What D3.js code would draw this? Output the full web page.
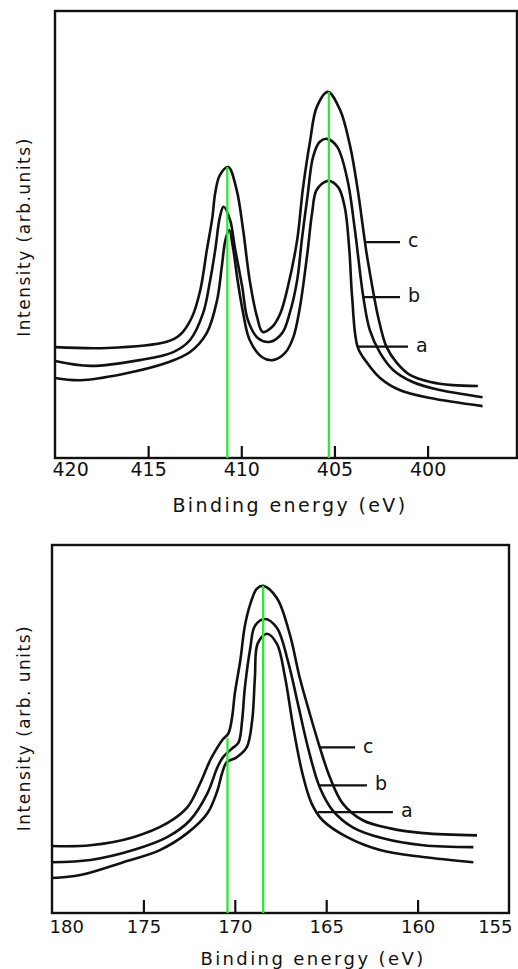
<!DOCTYPE html>
<html>
<head>
<meta charset="utf-8">
<script src="https://cdn.jsdelivr.net/npm/d3@7"></script>
<style>
  html, body { margin: 0; padding: 0; background: #fff; }
  svg { display: block; }
  .frame { fill: none; stroke: #111; stroke-width: 2.4; }
  .curve { fill: none; stroke: #111; stroke-width: 2.6; stroke-linejoin: round; }
  .marker { stroke: #22ee22; stroke-width: 2.2; }
  .lead { stroke: #111; stroke-width: 2.2; }
  .tick line { stroke: #111; stroke-width: 2.2; }
  text { font-family: "DejaVu Sans", sans-serif; fill: #111; }
</style>
</head>
<body>
<svg id="chart" width="518" height="969"></svg>
<script>
// tick values (binding energy, eV)
const topTicks = [420, 415, 410, 405, 400];
const bottomTicks = [180, 175, 170, 165, 160, 155];

// spectra: [binding energy (eV), intensity (arb. units)]
const topCurveA = [[420.0,17.9],[418.65,17.4],[416.35,18.8],[414.0,21.3],[412.75,23.7],[411.85,28.0],[411.3,35.3],[411.05,42.7],[410.85,48.8],[410.65,51.0],[410.45,47.2],[410.2,39.8],[409.9,32.4],[409.55,26.4],[408.9,22.6],[408.3,21.9],[407.65,23.5],[407.2,27.1],[406.85,33.8],[406.45,45.9],[406.2,54.8],[405.95,60.0],[405.35,62.0],[404.8,60.6],[404.45,56.2],[404.2,46.5],[404.05,36.0],[403.75,24.8],[403.25,21.3],[402.55,17.9],[401.5,15.2],[399.85,13.4],[397.05,11.6]];
const topCurveB = [[420.0,21.7],[418.1,20.6],[415.45,21.9],[413.65,23.7],[412.75,26.4],[412.05,32.4],[411.7,39.1],[411.4,46.5],[411.15,53.9],[410.95,56.2],[410.6,53.2],[410.35,47.2],[409.95,38.3],[409.65,30.9],[409.1,26.8],[408.45,26.0],[407.8,28.0],[407.4,32.4],[407.0,39.8],[406.75,48.8],[406.45,58.4],[406.15,67.3],[405.8,70.7],[405.4,71.4],[404.85,69.6],[404.3,62.2],[403.9,51.0],[403.45,36.0],[403.1,28.6],[402.55,23.5],[401.85,19.7],[400.8,17.0],[399.35,15.2],[397.05,13.6]];
const topCurveC = [[420.0,24.8],[417.2,24.6],[414.0,26.0],[413.3,27.5],[412.65,31.5],[412.2,37.6],[411.85,46.5],[411.55,53.9],[411.4,59.3],[411.15,63.3],[410.7,65.1],[410.25,60.0],[409.9,51.0],[409.55,39.8],[409.15,31.5],[408.85,28.2],[408.35,29.3],[407.9,32.4],[407.5,38.3],[407.0,48.8],[406.7,60.0],[406.3,71.1],[405.95,78.5],[405.35,81.9],[404.7,77.9],[404.15,69.6],[403.75,60.0],[403.45,51.0],[403.3,46.5],[403.0,39.1],[402.65,31.5],[402.2,24.8],[401.65,21.3],[400.95,18.6],[399.85,17.0],[398.65,16.3],[397.3,16.1]];

const bottomCurveA = [[180.0,9.5],[178.45,10.3],[176.1,13.8],[174.1,17.1],[172.6,21.7],[171.5,27.1],[170.95,33.3],[170.7,37.9],[170.45,40.9],[169.9,42.3],[169.35,45.0],[169.05,52.3],[168.9,64.0],[168.75,73.2],[168.25,75.9],[167.7,73.2],[167.25,64.0],[166.8,50.4],[166.3,37.9],[165.8,29.8],[165.2,25.2],[163.85,20.6],[162.05,17.1],[159.7,15.2],[156.95,13.8]];
const bottomCurveB = [[180.0,13.8],[177.9,14.4],[175.55,17.1],[173.7,20.6],[172.45,25.2],[171.5,32.5],[170.95,39.6],[170.65,42.3],[170.15,44.7],[169.8,46.3],[169.6,52.3],[169.45,61.2],[169.15,72.1],[168.9,78.0],[168.35,79.9],[167.7,77.5],[167.1,68.6],[166.55,56.9],[166.0,45.0],[165.35,34.1],[164.65,27.9],[163.55,23.3],[161.9,20.3],[159.7,18.4],[156.95,17.9]];
const bottomCurveC = [[180.0,18.2],[177.9,18.4],[175.55,20.6],[173.7,24.4],[172.6,28.7],[171.9,35.2],[171.35,41.5],[170.95,45.0],[170.65,47.2],[170.35,48.8],[170.15,53.1],[170.0,59.6],[169.7,68.6],[169.45,78.0],[169.15,84.0],[168.8,88.1],[168.45,88.9],[167.7,85.6],[167.0,75.9],[166.45,64.0],[165.9,54.2],[165.35,45.0],[164.8,36.9],[164.1,29.8],[163.0,25.2],[161.5,23.0],[159.7,21.7],[156.75,21.1]];

// green peak markers: [energy, top intensity]
const topMarkers = [[410.75, 65.1], [405.3, 81.9]];
const bottomMarkers = [[170.4, 47.5], [168.45, 88.9]];

// curve labels: name, intensity of leader, energy where it starts / ends
const topLabels = [
  { name: 'c', i: 48.3, from: 403.38, to: 401.48 },
  { name: 'b', i: 36.0, from: 403.47, to: 401.48 },
  { name: 'a', i: 24.9, from: 403.75, to: 401.05 }
];
const bottomLabels = [
  { name: 'c', i: 45.0, from: 165.4, to: 163.42 },
  { name: 'b', i: 34.7, from: 165.34, to: 162.77 },
  { name: 'a', i: 27.4, from: 165.45, to: 161.35 }
];

class SpectrumPanel {
  constructor(svg, opts) {
    this.opts = opts;
    this.$g = svg.append('g');
    this.x = d3.scaleLinear().domain(opts.domain).range([opts.left, opts.right]);
    this.y = d3.scaleLinear().domain([0, 100]).range([opts.bottom, opts.top]);
  }

  draw() {
    this.drawFrame();
    this.drawAxis();
    this.drawCurves();
    this.drawMarkers();
    this.drawLabels();
    this.drawTitles();
  }

  drawFrame() {
    let o = this.opts;
    this.$g.append('rect')
      .attr('class', 'frame')
      .attr('x', o.left).attr('y', o.top)
      .attr('width', o.right - o.left)
      .attr('height', o.bottom - o.top);
  }

  drawAxis() {
    let o = this.opts;
    let dom = this.x.domain();
    let axis = d3.axisBottom(this.x)
      .tickValues(o.ticks)
      .tickFormat(d3.format('d'))
      .tickSizeInner(-o.tickLen)
      .tickSizeOuter(0)
      .tickPadding(o.tickPad);

    let g = this.$g.append('g')
      .attr('transform', `translate(0,${o.bottom})`)
      .call(axis);
    g.select('.domain').remove();
    g.selectAll('text')
      .style('font-size', o.tickFont + 'px')
      .attr('fill', '#111');

    // no tick mark at the frame corners, labels pulled inside
    g.selectAll('.tick')
      .filter(d => d === dom[0] || d === dom[1])
      .select('line').remove();
    g.selectAll('.tick text')
      .filter(d => d === dom[0])
      .attr('text-anchor', 'start').attr('dx', -3);
    g.selectAll('.tick text')
      .filter(d => d === dom[1])
      .attr('text-anchor', 'end').attr('dx', 3);
  }

  drawCurves() {
    let line = d3.line()
      .x(d => this.x(d[0]))
      .y(d => this.y(d[1]))
      .curve(d3.curveCatmullRom.alpha(0.5));

    this.$g.selectAll('.curve')
      .data(this.opts.curves)
      .enter()
        .append('path')
        .attr('class', 'curve')
        .attr('d', d => line(d));
  }

  drawMarkers() {
    this.$g.selectAll('.marker')
      .data(this.opts.markers)
      .enter()
        .append('line')
        .attr('class', 'marker')
        .attr('x1', d => this.x(d[0])).attr('x2', d => this.x(d[0]))
        .attr('y1', d => this.y(d[1])).attr('y2', this.y(0));
  }

  drawLabels() {
    let labels = this.opts.labels;
    this.$g.selectAll('.lead')
      .data(labels)
      .enter()
        .append('line')
        .attr('class', 'lead')
        .attr('x1', d => this.x(d.from)).attr('x2', d => this.x(d.to))
        .attr('y1', d => this.y(d.i)).attr('y2', d => this.y(d.i));

    this.$g.selectAll('.name')
      .data(labels)
      .enter()
        .append('text')
        .attr('class', 'name')
        .attr('x', d => this.x(d.to) + 8)
        .attr('y', d => this.y(d.i))
        .attr('dy', '0.27em')
        .style('font-size', '19px')
        .text(d => d.name);
  }

  drawTitles() {
    let o = this.opts;
    this.$g.append('text')
      .attr('x', o.xTitle[0]).attr('y', o.xTitle[1])
      .attr('text-anchor', 'middle')
      .style('font-size', o.titleFont + 'px')
      .style('letter-spacing', '2.4px')
      .text('Binding energy (eV)');

    this.$g.append('text')
      .attr('transform', `translate(${o.yTitle[0]},${o.yTitle[1]}) rotate(-90)`)
      .attr('text-anchor', 'middle')
      .style('font-size', '17px')
      .style('letter-spacing', '1.5px')
      .text(o.yText);
  }
}

const svg = d3.select('#chart');

new SpectrumPanel(svg, {
  domain: [420, 395.2], left: 55, right: 517, top: 11, bottom: 458,
  ticks: topTicks, tickLen: 12, tickPad: 5, tickFont: 19, titleFont: 19,
  curves: [topCurveA, topCurveB, topCurveC],
  markers: topMarkers, labels: topLabels,
  xTitle: [290, 512], yTitle: [30, 237], yText: 'Intensity (arb.units)'
}).draw();

new SpectrumPanel(svg, {
  domain: [180, 155], left: 52, right: 509, top: 545, bottom: 913,
  ticks: bottomTicks, tickLen: 13, tickPad: 7, tickFont: 18, titleFont: 18,
  curves: [bottomCurveA, bottomCurveB, bottomCurveC],
  markers: bottomMarkers, labels: bottomLabels,
  xTitle: [313, 965], yTitle: [30, 728], yText: 'Intensity (arb. units)'
}).draw();
</script>
</body>
</html>
